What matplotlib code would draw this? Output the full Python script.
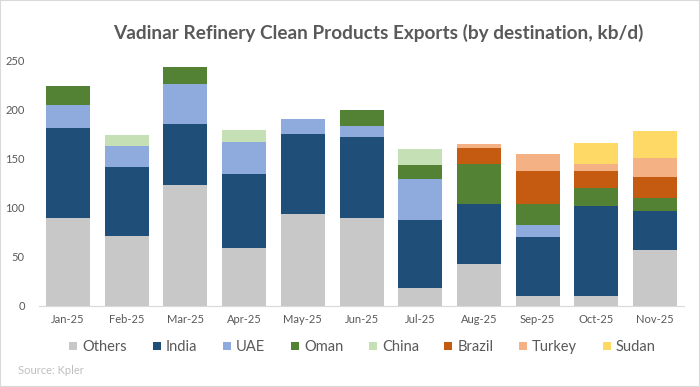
import numpy as np
import matplotlib
matplotlib.use("Agg")
import matplotlib.pyplot as plt
from matplotlib.patches import Rectangle

plt.rcParams['font.family'] = ['Lato', 'DejaVu Sans']

months = ["Jan-25", "Feb-25", "Mar-25", "Apr-25", "May-25", "Jun-25",
          "Jul-25", "Aug-25", "Sep-25", "Oct-25", "Nov-25"]

others = [90, 71, 123, 59, 94, 90, 18, 43, 10, 10, 57]
india = [91, 71, 62, 75, 81, 82, 70, 61, 60, 92, 40]
uae = [24, 21, 41, 33, 16, 11, 41, 0, 12, 0, 0]
oman = [19, 0, 18, 0, 0, 17, 15, 41, 22, 18, 13]
china = [0, 11, 0, 12, 0, 0, 16, 0, 0, 0, 0]
brazil = [0, 0, 0, 0, 0, 0, 0, 16, 34, 17, 21]
turkey = [0, 0, 0, 0, 0, 0, 0, 4, 17, 8, 20]
sudan = [0, 0, 0, 0, 0, 0, 0, 0, 0, 21, 27]

series = {
    "Others": (others, "#C8C8C8"),
    "India": (india, "#1F4E79"),
    "UAE": (uae, "#8FAADC"),
    "Oman": (oman, "#548235"),
    "China": (china, "#C5E0B4"),
    "Brazil": (brazil, "#C55A11"),
    "Turkey": (turkey, "#F4B183"),
    "Sudan": (sudan, "#FFD966"),
}

text_grey = "#595959"

fig = plt.figure(figsize=(7, 3.87), dpi=100)
ax = fig.add_axes([0.0553, 0.210, 0.9223, 0.633])

x = np.arange(len(months))
bottom = np.zeros(len(months))
for name, (vals, color) in series.items():
    vals = np.array(vals, dtype=float)
    ax.bar(x, vals, bottom=bottom, width=0.75, color=color, label=name, zorder=2)
    bottom += vals

ax.set_xlim(-0.5, len(months) - 0.5)
ax.set_ylim(0, 250)
ax.set_yticks(np.arange(0, 251, 50))
ax.set_xticks(x)
ax.set_xticklabels(months)
ax.tick_params(axis="both", length=0, colors=text_grey, labelsize=8)
ax.tick_params(axis="y", pad=10)
ax.tick_params(axis="x", pad=6)
for s in ["top", "right", "left"]:
    ax.spines[s].set_visible(False)
ax.spines["bottom"].set_color("#D9D9D9")

fig.text(0.54, 0.915, "Vadinar Refinery Clean Products Exports (by destination, kb/d)",
         ha="center", va="center", fontsize=13.7, fontweight="bold", color=text_grey)

fig.legend(loc="center", bbox_to_anchor=(0.518, 0.103), ncol=8, frameon=False,
           fontsize=10.5, handlelength=0.55, handleheight=0.55, handletextpad=0.35,
           columnspacing=1.75, labelcolor=text_grey)

fig.text(0.025, 0.042, "Source: Kpler", fontsize=8, color="#BFBFBF", va="center")

fig.patches.append(Rectangle((0, 0), 1, 1, transform=fig.transFigure, fill=False,
                             edgecolor="#D9D9D9", linewidth=1.5))

fig.savefig("out.png", dpi=100)
